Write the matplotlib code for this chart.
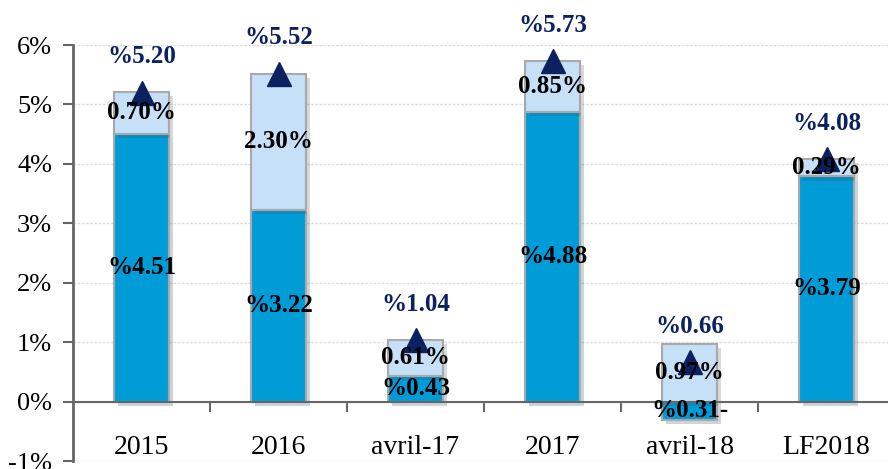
import numpy as np
import matplotlib.pyplot as plt
import matplotlib.patheffects as pe

categories = ["2015", "2016", "avril-17", "2017", "avril-18", "LF2018"]
base_vals = [4.51, 3.22, 0.43, 4.88, -0.31, 3.79]
extra_vals = [0.70, 2.30, 0.61, 0.85, 0.97, 0.29]
total_vals = [5.20, 5.52, 1.04, 5.73, 0.66, 4.08]
base_labels = ["%4.51", "%3.22", "%0.43", "%4.88", "%0.31-", "%3.79"]
extra_labels = ["0.70%", "2.30%", "0.61%", "0.85%", "0.97%", "0.29%"]
total_labels = ["%5.20", "%5.52", "%1.04", "%5.73", "%0.66", "%4.08"]
yticks = [-1, 0, 1, 2, 3, 4, 5, 6]
ytick_labels = ["-1%", "0%", "1%", "2%", "3%", "4%", "5%", "6%"]

dark = "#009CD8"
light = "#C6E0F8"
navy = "#0B2160"
serif = ["Liberation Serif", "DejaVu Serif"]

fig = plt.figure(figsize=(8.88, 4.69), dpi=100)
ax = fig.add_axes([73/888, 1 - 461/469, 815/888, 416/469])

x = np.arange(len(categories))
w = 0.40
shadow = [pe.SimplePatchShadow(offset=(3, -3), alpha=0.2), pe.Normal()]

# Excel-style stacking: positives stack from 0, negatives go below
bottoms = [b if b > 0 else 0 for b in base_vals]
b1 = ax.bar(x, base_vals, w, color=dark, edgecolor="#A9A9A9", linewidth=1.5, zorder=2)
b2 = ax.bar(x, extra_vals, w, bottom=bottoms, color=light, edgecolor="#A9A9A9",
            linewidth=1.5, zorder=2)
for p in list(b1) + list(b2):
    p.set_path_effects(shadow)

ax.plot(x, total_vals, linestyle="none", marker="^", markersize=17, color=navy, zorder=4)

for i in range(len(categories)):
    ax.text(x[i], base_vals[i] / 2, base_labels[i], ha="center", va="center",
            fontsize=18, fontweight="bold", family=serif, color="black", zorder=5)
    ax.text(x[i], bottoms[i] + extra_vals[i] / 2, extra_labels[i], ha="center", va="center",
            fontsize=18, fontweight="bold", family=serif, color="black", zorder=5)
    ax.text(x[i], total_vals[i] + 0.6, total_labels[i], ha="center", va="center",
            fontsize=18, fontweight="bold", family=serif, color=navy, zorder=5)

ax.set_ylim(-1, 6)
ax.set_xlim(-0.5, -0.5 + 815/137)
ax.set_yticks(yticks)
ax.set_yticklabels(ytick_labels, family=serif, fontsize=19)
ax.yaxis.grid(True, color="#DDDDDD", linewidth=1, linestyle=(0, (2, 1)), zorder=0)
ax.set_axisbelow(True)

ax.spines["bottom"].set_position(("data", 0))
ax.spines["bottom"].set_color("#666666")
ax.spines["bottom"].set_linewidth(1.5)
ax.spines["left"].set_color("#666666")
ax.spines["left"].set_linewidth(2)
ax.spines["top"].set_visible(False)
ax.spines["right"].set_visible(False)

ax.set_xticks(x)
ax.set_xticklabels(categories, family=serif, fontsize=20)
ax.tick_params(axis="x", which="major", length=0, pad=24)
ax.set_xticks(x[:-1] + 0.5, minor=True)
ax.tick_params(axis="x", which="minor", length=7, width=1.5, color="#666666", direction="out")
ax.tick_params(axis="y", length=7, width=1.5, color="#666666", pad=8)

fig.savefig("out.png", dpi=100)
